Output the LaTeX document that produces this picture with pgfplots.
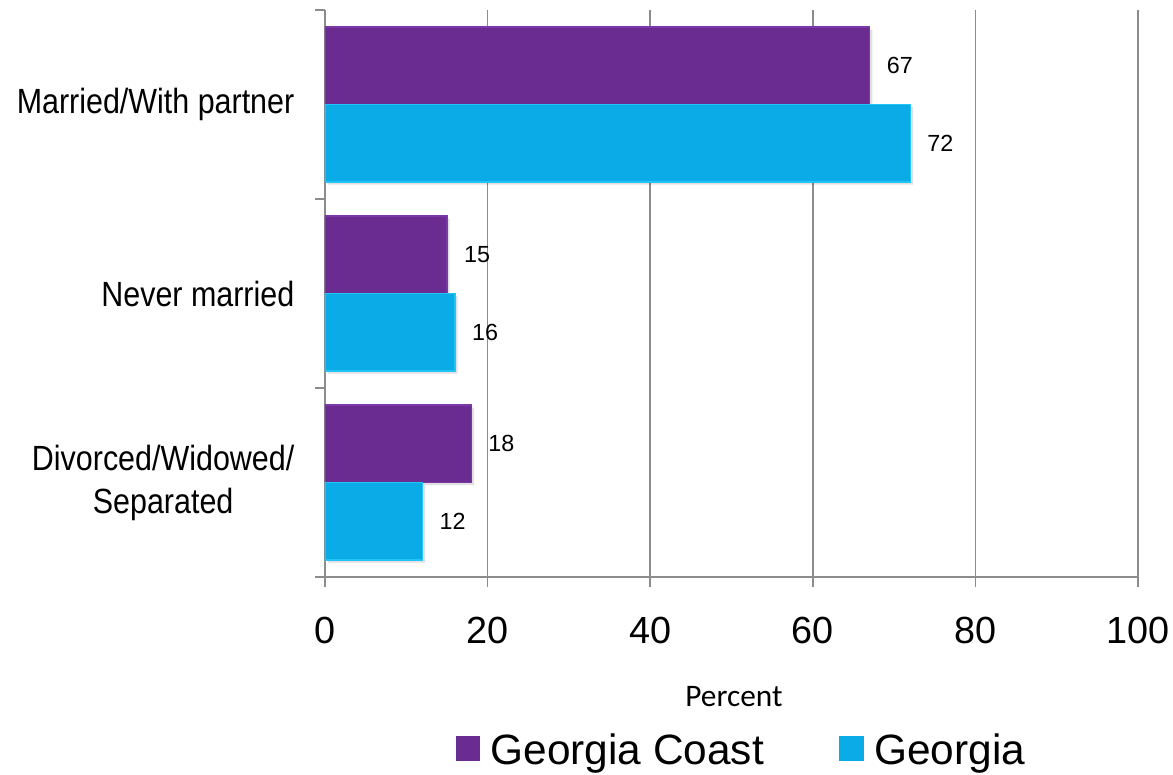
\documentclass[border=0pt]{standalone}
\usepackage{fontspec}
\setmainfont{Liberation Sans}
\newfontfamily\catfont[FakeStretch=0.87]{Liberation Sans}
\newfontfamily\calfont{Carlito}
\usepackage{pgfplots}
\pgfplotsset{compat=1.18}
\definecolor{cGC}{HTML}{6A2C91}
\definecolor{cGCedge}{HTML}{7A38A8}
\definecolor{cGA}{HTML}{0AABE7}
\definecolor{cGAedge}{HTML}{22C4F5}
\definecolor{gridc}{HTML}{8C8C8C}
\begin{document}
\begin{tikzpicture}
\path[use as bounding box] (-243.75pt,-147.75pt) rectangle (636pt,432.75pt);
\begin{axis}[
  at={(0,0)}, anchor=south west,
  scale only axis, width=609.75pt, height=425.25pt,
  xmin=0, xmax=100, ymin=-0.5, ymax=2.5,
  xbar, bar width=0.41,
  xtick={0,20,...,100},
  ytick={0,1,2},
  yticklabels={{Divorced/Widowed/\\Separated},{Never married},{Married/With partner}},
  minor ytick={-0.5,0.5,1.5,2.5},
  axis x line*=bottom, axis y line*=left,
  axis line style={-, draw=gridc, line width=1.2pt},
  xmajorgrids, major grid style={draw=gridc, line width=1.2pt},
  tick align=outside,
  major tick length=7.5pt, minor tick length=7.5pt,
  x tick style={draw=gridc, line width=1.2pt},
  minor y tick style={draw=gridc, line width=1.2pt},
  major y tick style={draw=none},
  /pgf/number format/assume math mode=true,
  yticklabel style={font=\catfont\fontsize{26.25pt}{32.25pt}\selectfont, align=center, xshift=-12pt},
  xticklabel style={font=\fontsize{28.35pt}{34pt}\selectfont, yshift=-18.75pt},
  xlabel={Percent},
  xlabel style={font=\calfont\fontsize{23.5pt}{28pt}\selectfont, at={(axis description cs:0.503,-0.2116)}, anchor=center},
  every node near coord/.append style={font=\fontsize{17.5pt}{21pt}\selectfont, text=black, anchor=west, xshift=9pt},
  legend style={at={(0.5125,-0.305)}, anchor=center, draw=none, fill=none,
    font=\fontsize{31.8pt}{38pt}\selectfont,
    /tikz/every even column/.append style={column sep=54.5pt}},
  legend columns=2,
]
\addplot[forget plot, fill=black, fill opacity=0.12, draw=none, bar shift=0.205, xshift=2pt, yshift=-2pt]
  coordinates {(67,2) (15,1) (18,0)};
\addplot[forget plot, fill=black, fill opacity=0.12, draw=none, bar shift=-0.205, xshift=2pt, yshift=-2pt]
  coordinates {(72,2) (16,1) (12,0)};
\addplot[fill=cGC, draw=cGCedge, line width=1pt, bar shift=0.205, nodes near coords,
  legend image code/.code={\fill[cGC] (0pt,-7.5pt) rectangle (17.25pt,9.75pt); \path (23.25pt,0pt);}]
  coordinates {(67,2) (15,1) (18,0)};
\addlegendentry{Georgia Coast}
\addplot[fill=cGA, draw=cGAedge, line width=1pt, bar shift=-0.205, nodes near coords,
  legend image code/.code={\fill[cGA] (0pt,-7.5pt) rectangle (17.25pt,9.75pt); \path (23.25pt,0pt);}]
  coordinates {(72,2) (16,1) (12,0)};
\addlegendentry{Georgia}
\end{axis}
\end{tikzpicture}
\end{document}
